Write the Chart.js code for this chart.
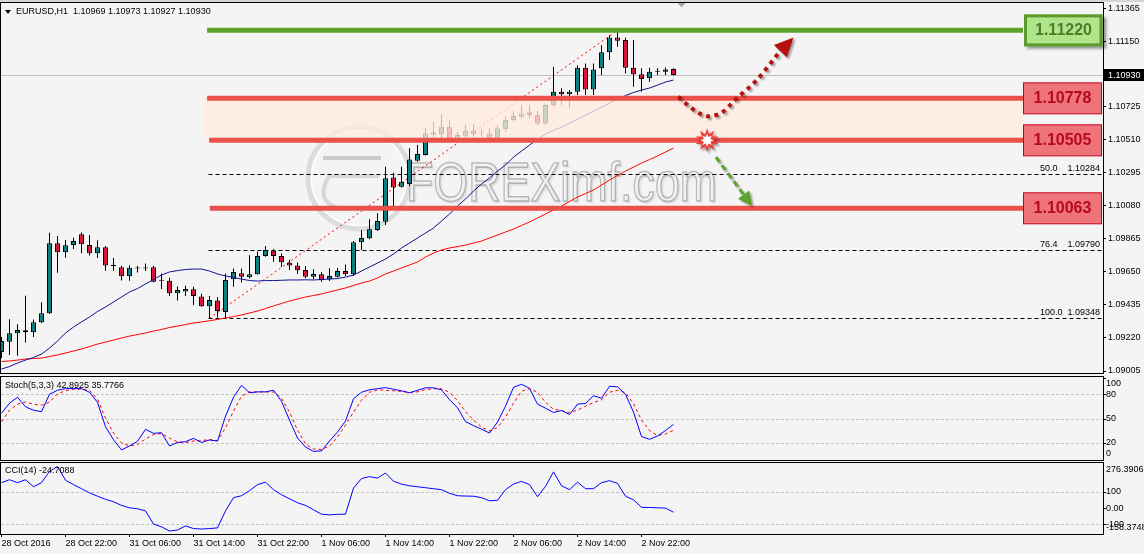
<!DOCTYPE html>
<html>
<head>
<meta charset="utf-8">
<title>EURUSD H1</title>
<script src="https://cdn.jsdelivr.net/npm/chart.js@4.4.1/dist/chart.umd.min.js"></script>
<style>
  html, body { margin:0; padding:0; background:#f4f4f4; }
  body { width:1144px; height:554px; position:relative; overflow:hidden; }
  canvas { position:absolute; left:0; display:block; }
</style>
</head>
<body>
<canvas id="mainPane" width="1144" height="374" style="top:0px"></canvas>
<canvas id="stochPane" width="1144" height="87" style="top:374px"></canvas>
<canvas id="cciPane" width="1144" height="93" style="top:461px"></canvas>
<script>
// ---------------- DATA ----------------
const symbol = 'EURUSD,H1';
const categories = [
 '28 Oct 14:00','28 Oct 15:00','28 Oct 16:00','28 Oct 17:00','28 Oct 18:00','28 Oct 19:00','28 Oct 20:00','28 Oct 21:00','28 Oct 22:00','28 Oct 23:00',
 '31 Oct 00:00','31 Oct 01:00','31 Oct 02:00','31 Oct 03:00','31 Oct 04:00','31 Oct 05:00','31 Oct 06:00','31 Oct 07:00','31 Oct 08:00','31 Oct 09:00','31 Oct 10:00','31 Oct 11:00',
 '31 Oct 12:00','31 Oct 13:00','31 Oct 14:00','31 Oct 15:00','31 Oct 16:00','31 Oct 17:00','31 Oct 18:00','31 Oct 19:00','31 Oct 20:00','31 Oct 21:00','31 Oct 22:00','31 Oct 23:00',
 '1 Nov 00:00','1 Nov 01:00','1 Nov 02:00','1 Nov 03:00','1 Nov 04:00','1 Nov 05:00','1 Nov 06:00','1 Nov 07:00','1 Nov 08:00','1 Nov 09:00','1 Nov 10:00','1 Nov 11:00',
 '1 Nov 12:00','1 Nov 13:00','1 Nov 14:00','1 Nov 15:00','1 Nov 16:00','1 Nov 17:00','1 Nov 18:00','1 Nov 19:00','1 Nov 20:00','1 Nov 21:00','1 Nov 22:00','1 Nov 23:00',
 '2 Nov 00:00','2 Nov 01:00','2 Nov 02:00','2 Nov 03:00','2 Nov 04:00','2 Nov 05:00','2 Nov 06:00','2 Nov 07:00','2 Nov 08:00','2 Nov 09:00','2 Nov 10:00','2 Nov 11:00',
 '2 Nov 12:00','2 Nov 13:00','2 Nov 14:00','2 Nov 15:00','2 Nov 16:00','2 Nov 17:00','2 Nov 18:00','2 Nov 19:00','2 Nov 20:00','2 Nov 21:00','2 Nov 22:00','2 Nov 23:00',
 '3 Nov 00:00','3 Nov 01:00','3 Nov 02:00'
];
const xTickIndex  = [0, 8, 16, 24, 32, 40, 48, 56, 64, 72, 80];
const xTickLabels = ['28 Oct 2016','28 Oct 22:00','31 Oct 06:00','31 Oct 14:00','31 Oct 22:00','1 Nov 06:00','1 Nov 14:00','1 Nov 22:00','2 Nov 06:00','2 Nov 14:00','2 Nov 22:00'];

const open = [1.09128,1.09195,1.09250,1.09270,1.09257,1.09322,1.09380,1.09835,1.09777,1.09824,
1.09894,1.09824,1.09770,1.09809,1.09691,1.09679,1.09621,1.09672,1.09673,1.09679,
1.09593,1.09592,1.09510,1.09522,1.09536,1.09489,1.09426,1.09463,1.09389,1.09602,
1.09640,1.09614,1.09634,1.09753,1.09787,1.09753,1.09709,1.09691,1.09662,1.09618,
1.09634,1.09601,1.09618,1.09655,1.09634,1.09842,1.09868,1.09922,1.09976,1.10264,
1.10203,1.10221,1.10372,1.10409,1.10541,1.10544,1.10593,1.10513,1.10535,1.10565,
1.10550,1.10550,1.10518,1.10578,1.10637,1.10658,1.10687,1.10669,1.10615,1.10734,
1.10821,1.10804,1.10821,1.10977,1.10836,1.10973,1.11077,1.11174,1.11157,1.10977,
1.10934,1.10908,1.10951,1.10951,1.10969];
const high = [1.09226,1.09341,1.09309,1.09495,1.09340,1.09452,1.09904,1.09883,1.09857,1.09872,
1.09905,1.09889,1.09855,1.09818,1.09740,1.09690,1.09692,1.09688,1.09704,1.09690,
1.09639,1.09612,1.09554,1.09559,1.09553,1.09507,1.09493,1.09486,1.09639,1.09671,
1.09671,1.09757,1.09782,1.09818,1.09798,1.09770,1.09729,1.09710,1.09688,1.09666,
1.09647,1.09673,1.09675,1.09697,1.09850,1.09922,1.09991,1.10030,1.10333,1.10294,
1.10333,1.10453,1.10474,1.10589,1.10626,1.10676,1.10641,1.10561,1.10604,1.10609,
1.10578,1.10583,1.10604,1.10658,1.10691,1.10734,1.10734,1.10695,1.10745,1.10983,
1.10843,1.10832,1.10994,1.11005,1.11005,1.11124,1.11189,1.11215,1.11172,1.11157,
1.10973,1.10977,1.10973,1.10979,1.10973];
const low = [1.09089,1.09109,1.09104,1.09190,1.09226,1.09317,1.09376,1.09644,1.09742,1.09798,
1.09770,1.09756,1.09740,1.09657,1.09657,1.09593,1.09592,1.09645,1.09656,1.09582,
1.09538,1.09493,1.09463,1.09493,1.09434,1.09423,1.09348,1.09353,1.09350,1.09553,
1.09580,1.09608,1.09633,1.09748,1.09716,1.09681,1.09662,1.09636,1.09608,1.09603,
1.09586,1.09591,1.09613,1.09623,1.09623,1.09792,1.09861,1.09915,1.09954,1.10078,
1.10199,1.10208,1.10366,1.10406,1.10518,1.10518,1.10507,1.10504,1.10518,1.10528,
1.10528,1.10513,1.10513,1.10561,1.10626,1.10648,1.10648,1.10604,1.10604,1.10723,
1.10734,1.10713,1.10799,1.10799,1.10799,1.10929,1.11027,1.11113,1.10940,1.10853,
1.10821,1.10886,1.10929,1.10929,1.10927];
const close = [1.09200,1.09250,1.09272,1.09257,1.09322,1.09380,1.09835,1.09777,1.09822,1.09850,
1.09829,1.09770,1.09809,1.09691,1.09688,1.09621,1.09676,1.09671,1.09672,1.09586,
1.09592,1.09510,1.09532,1.09538,1.09493,1.09426,1.09467,1.09395,1.09597,1.09649,
1.09618,1.09634,1.09753,1.09792,1.09753,1.09712,1.09691,1.09660,1.09618,1.09636,
1.09597,1.09623,1.09655,1.09634,1.09842,1.09870,1.09927,1.09980,1.10258,1.10199,
1.10236,1.10381,1.10416,1.10550,1.10557,1.10593,1.10513,1.10539,1.10565,1.10544,
1.10551,1.10518,1.10583,1.10637,1.10663,1.10680,1.10669,1.10615,1.10734,1.10821,
1.10804,1.10821,1.10977,1.10836,1.10966,1.11077,1.11174,1.11152,1.10977,1.10934,
1.10903,1.10951,1.10952,1.10966,1.10930];

const maFast = [1.09018,1.09034,1.09057,1.09076,1.09093,1.09115,1.09154,1.09200,1.09252,1.09291,
1.09324,1.09356,1.09392,1.09421,1.09454,1.09486,1.09519,1.09541,1.09571,1.09600,
1.09629,1.09649,1.09658,1.09665,1.09668,1.09668,1.09655,1.09636,1.09623,1.09613,
1.09603,1.09593,1.09590,1.09593,1.09593,1.09595,1.09597,1.09597,1.09598,1.09597,
1.09600,1.09603,1.09606,1.09616,1.09629,1.09655,1.09681,1.09707,1.09733,1.09766,
1.09805,1.09837,1.09870,1.09902,1.09935,1.09980,1.10026,1.10078,1.10123,1.10175,
1.10221,1.10260,1.10305,1.10344,1.10396,1.10435,1.10474,1.10513,1.10546,1.10569,
1.10591,1.10617,1.10643,1.10669,1.10695,1.10721,1.10747,1.10773,1.10796,1.10816,
1.10832,1.10845,1.10864,1.10884,1.10897];
const maSlow = [1.09067,1.09070,1.09076,1.09083,1.09086,1.09089,1.09099,1.09109,1.09122,1.09135,
1.09148,1.09164,1.09180,1.09193,1.09206,1.09219,1.09232,1.09242,1.09252,1.09265,
1.09275,1.09288,1.09297,1.09307,1.09317,1.09324,1.09332,1.09340,1.09350,1.09359,
1.09369,1.09382,1.09395,1.09411,1.09428,1.09444,1.09460,1.09473,1.09486,1.09496,
1.09506,1.09519,1.09532,1.09545,1.09561,1.09577,1.09590,1.09610,1.09636,1.09655,
1.09675,1.09694,1.09714,1.09746,1.09772,1.09792,1.09805,1.09814,1.09824,1.09837,
1.09850,1.09870,1.09889,1.09909,1.09928,1.09951,1.09974,1.10000,1.10026,1.10052,
1.10078,1.10107,1.10136,1.10159,1.10182,1.10214,1.10247,1.10276,1.10305,1.10331,
1.10357,1.10380,1.10403,1.10429,1.10455];

const stochMain = [56.7,69,76.3,64.5,60.4,58.6,80,85,87,87,
87,82.5,70,40,24,11.4,16.3,22,36.8,31.9,
32.6,16.3,20.6,21.6,25.7,20.6,23.7,22.4,53,76.3,
91,81.9,83,83,85,71.4,48.2,26.1,15,9.6,
10.2,22.4,33.5,47,74.5,82.5,85.5,86.9,88.2,86.2,
84.3,81.9,84.9,88,88,85.5,73.3,63.5,46.3,41.4,
37.1,32.2,45.7,65.3,88.6,92.3,87.4,67.8,62.9,57.6,
60,55.1,67.8,68.6,78.2,75.1,89.8,89.2,80,58,
27.9,24.5,28.6,35.3,42.8925];
const stochSignal = [46.1,60.4,67.8,70.6,67.8,66.5,70.2,80.6,84.3,86.2,
86.4,84.9,73.9,50.6,32.2,20,16.3,18.1,24.9,30.4,
31.6,26.1,21.2,20.6,22.4,22.8,24.3,22.8,38.4,59.2,
77.6,83,82.8,82.8,82.8,75.1,58,35.9,18.8,12.6,
12,16.3,27.3,42,58,72.7,82.5,85.5,84.9,84.3,
83.5,82.1,83,85.8,86.8,86.8,82.5,72.1,58.6,48.2,
39.6,34.7,39,51.8,69,83.7,87,82.5,70.2,61.6,
60,57.4,60.4,65.3,69.6,73.3,82.5,84.9,81.9,68.4,
48.2,35.3,29.2,31,35.7766];
const cci = [156,174,156,174,131,156,225,255,171,144,
119,94,73,54,39,17,2,-4,-17,-97,
-115,-140,-134,-109,-125,-128,-125,-121,-17,64,
76,107,144,159,113,82,57,33,17,-10,
-37,-41,-38,-37,123,181,193,184,215,165,
147,137,131,125,119,113,91,76,74,73,
64,45,48,113,147,164,144,70,133,222,
137,113,159,119,119,156,168,152,73,51,
5,4,2,0,-24.7088];

const priceTicks = [1.11365,1.11150,1.10725,1.10510,1.10295,1.10080,1.09865,1.09650,1.09435,1.09220,1.09005];
const currentPrice = 1.10930;
const resistanceLevel = 1.11220;
const supportLevels = [1.10778, 1.10505, 1.10063];
const fibLevels = [50.0, 76.4, 100.0];
const fibPrices = [1.10284, 1.09790, 1.09348];
const fibAnchorLow  = [26, 1.09348];
const fibAnchorHigh = [77, 1.11220];
const stochLevels = [80, 50, 20];
const stochAxisValues = [100, 80, 50, 20, 0];
const cciMin = -158.3748, cciMax = 276.3906;
const cciLevels = [100, -100];
const cciAxisValues = [cciMax, 100, 0, -100, cciMin];
const cciAxisLabels = ['276.3906', '100', '0.00', '-100', '-158.3748'];
// annotation paths, in (bar index, price)
const upArrowPath = [[84.6,1.10788],[86.3,1.10713],[87.7,1.10669],[88.8,1.10663],[90.2,1.10691],[91.9,1.10778],[94.4,1.10897],[97.1,1.11070]];
const upArrowTip = [99.0, 1.11174];
const downArrowPath = [[89.3,1.10396],[92.9,1.10143]];
const downArrowTip = [93.8, 1.10078];
const burstPoint = [88.2, 1.10505];

// ---------------- COMMON ----------------
const X_MIN = -0.0625, X_MAX = 137.6875;
const FONT = '"Liberation Sans", Arial, sans-serif';
const AXIS_W = 41;

function noPad(s){ s.paddingTop = 0; s.paddingBottom = 0; s.paddingLeft = 0; s.paddingRight = 0; }
function bgFill(c){ const ctx=c.ctx; ctx.save(); ctx.fillStyle='#f4f4f4'; ctx.fillRect(0,0,c.width,c.height); ctx.restore(); }
function frame(c){ const {ctx, chartArea:a}=c; ctx.save(); ctx.strokeStyle='#000'; ctx.lineWidth=1; ctx.setLineDash([]);
  ctx.strokeRect(a.left-0.5, a.top-0.5, a.right-a.left+1, a.bottom-a.top+1); ctx.restore(); }
function text(ctx, s, x, y, font, color, align){ ctx.font=font; ctx.fillStyle=color; ctx.textAlign=align||'left'; ctx.textBaseline='middle'; ctx.fillText(s,x,y); }
function hline(ctx, x0, x1, yy){ ctx.beginPath(); ctx.moveTo(x0,yy); ctx.lineTo(x1,yy); ctx.stroke(); }
function rightLabels(c, values, labels){
  const {ctx, chartArea:a, scales:{y}} = c;
  ctx.save();
  values.forEach((v,i)=>{
    let yy = y.getPixelForValue(v);
    const tick = yy > a.top+1 && yy < a.bottom-1;
    if (tick){ ctx.strokeStyle='#000'; ctx.lineWidth=1; const ty=Math.round(yy)+0.5; hline(ctx, a.right, a.right+3, ty); }
    yy = Math.min(Math.max(yy, a.top+6.5), a.bottom-6.5);
    text(ctx, labels[i], a.right+3, yy, '9px '+FONT, '#000', 'left');
  });
  ctx.restore();
}
function catmull(ctx, pts){
  ctx.moveTo(pts[0][0], pts[0][1]);
  for (let i=0;i<pts.length-1;i++){
    const p0=pts[Math.max(0,i-1)], p1=pts[i], p2=pts[i+1], p3=pts[Math.min(pts.length-1,i+2)];
    ctx.bezierCurveTo(p1[0]+(p2[0]-p0[0])/6, p1[1]+(p2[1]-p0[1])/6, p2[0]-(p3[0]-p1[0])/6, p2[1]-(p3[1]-p1[1])/6, p2[0], p2[1]);
  }
}
function arrowHead(ctx, from, tip, len, half){
  const dx=tip[0]-from[0], dy=tip[1]-from[1], d=Math.hypot(dx,dy), ux=dx/d, uy=dy/d;
  const bx=tip[0]-ux*len, by=tip[1]-uy*len;
  ctx.beginPath(); ctx.moveTo(tip[0],tip[1]); ctx.lineTo(bx-uy*half, by+ux*half); ctx.lineTo(bx+uy*half, by-ux*half); ctx.closePath(); ctx.fill();
}

// ---------------- MAIN PANE ----------------
function drawWatermark(ctx, a){
  ctx.save();
  ctx.beginPath(); ctx.rect(a.left,a.top,a.right-a.left,a.bottom-a.top); ctx.clip();
  const cx=a.left+358, cy=a.top+175;
  ctx.lineWidth=5; ctx.strokeStyle='rgba(190,190,190,0.45)';
  ctx.beginPath(); ctx.arc(cx,cy,51,0,Math.PI*2); ctx.stroke();
  ctx.lineWidth=1.5; ctx.strokeStyle='rgba(255,255,255,0.9)';
  ctx.beginPath(); ctx.arc(cx,cy,47.5,0,Math.PI*2); ctx.stroke();
  ctx.fillStyle='rgba(170,170,170,0.55)';
  ctx.fillRect(cx-36, cy-22, 58, 4);
  ctx.lineWidth=4; ctx.strokeStyle='rgba(185,185,185,0.5)';
  ctx.beginPath(); ctx.moveTo(cx+20, cy-2); ctx.lineTo(cx-30, cy-2); ctx.quadraticCurveTo(cx-44, cy+22, cx-22, cy+30); ctx.stroke();
  ctx.save();
  ctx.translate(a.left+405, a.top+198); ctx.scale(0.8,1);
  ctx.font='56px '+FONT; ctx.textAlign='left'; ctx.textBaseline='alphabetic';
  ctx.shadowColor='rgba(0,0,0,0.18)'; ctx.shadowOffsetX=2; ctx.shadowOffsetY=2; ctx.shadowBlur=2;
  ctx.fillStyle='rgba(250,250,250,0.55)'; ctx.fillText('FOREXimf.com',0,0);
  ctx.shadowColor='transparent';
  ctx.lineWidth=1.6; ctx.strokeStyle='rgba(135,135,135,0.55)'; ctx.strokeText('FOREXimf.com',0,0);
  ctx.restore();
  ctx.restore();
}

const mainDecor = {
  id:'mainDecor',
  beforeDraw(c){ bgFill(c); const ctx=c.ctx; ctx.save(); ctx.fillStyle='#d6d6d6'; ctx.fillRect(0,0,c.width,2); ctx.restore(); },
  beforeDatasetsDraw(c){
    const {ctx, chartArea:a, scales:{x,y}} = c;
    drawWatermark(ctx, a);
    ctx.save();
    ctx.beginPath(); ctx.rect(a.left,a.top,a.right-a.left,a.bottom-a.top); ctx.clip();
    ctx.lineWidth=1; ctx.strokeStyle='#c0c0c0';
    hline(ctx, a.left, a.right, Math.round(y.getPixelForValue(currentPrice))+0.5);
    ctx.strokeStyle='#000'; ctx.setLineDash([4,3]);
    const fx = x.getPixelForValue(fibAnchorLow[0]) - 1;
    fibPrices.forEach(p=> hline(ctx, fx, a.right, Math.round(y.getPixelForValue(p))+0.5));
    ctx.strokeStyle='#ff0000'; ctx.setLineDash([2,3]);
    ctx.beginPath();
    ctx.moveTo(x.getPixelForValue(fibAnchorLow[0]), y.getPixelForValue(fibAnchorLow[1]));
    ctx.lineTo(x.getPixelForValue(fibAnchorHigh[0]), y.getPixelForValue(fibAnchorHigh[1]));
    ctx.stroke();
    ctx.restore();
  },
  afterDatasetsDraw(c){
    const {ctx, chartArea:a, scales:{x,y}} = c;
    ctx.save();
    ctx.beginPath(); ctx.rect(a.left,a.top,a.right-a.left,a.bottom-a.top); ctx.clip();
    const boxLeft = a.right - 80;
    const zT = y.getPixelForValue(supportLevels[0]), zB = y.getPixelForValue(supportLevels[1]);
    const zx = x.getPixelForValue(25.2);
    ctx.fillStyle='rgba(255,234,220,0.78)';
    ctx.fillRect(zx, zT, boxLeft - zx, zB - zT);
    ctx.lineWidth=5;
    ctx.strokeStyle='#5ba32b';
    hline(ctx, x.getPixelForValue(25.7), boxLeft, y.getPixelForValue(resistanceLevel));
    ctx.strokeStyle='#ec504a';
    const starts=[25.7, 25.95, 26.05];
    supportLevels.forEach((p,i)=> hline(ctx, x.getPixelForValue(starts[i]), boxLeft, y.getPixelForValue(p)));
    fibPrices.forEach((p,i)=>{
      const yy = y.getPixelForValue(p) - 5.5;
      text(ctx, fibLevels[i].toFixed(1), a.right-63, yy, '9px '+FONT, '#000', 'left');
      text(ctx, p.toFixed(5), a.right-3, yy, '9px '+FONT, '#000', 'right');
    });
    const upPts = upArrowPath.map(q=>[x.getPixelForValue(q[0]), y.getPixelForValue(q[1])]);
    const upTip = [x.getPixelForValue(upArrowTip[0]), y.getPixelForValue(upArrowTip[1])];
    ctx.shadowColor='rgba(0,0,0,0.35)'; ctx.shadowOffsetX=2; ctx.shadowOffsetY=2; ctx.shadowBlur=2;
    ctx.strokeStyle='#b5110f'; ctx.lineWidth=4; ctx.setLineDash([4,4.5]); ctx.lineCap='butt';
    ctx.beginPath(); catmull(ctx, upPts); ctx.stroke();
    ctx.setLineDash([]); ctx.fillStyle='#b5110f';
    arrowHead(ctx, upPts[upPts.length-1], upTip, 19, 9);
    const dnPts = downArrowPath.map(q=>[x.getPixelForValue(q[0]), y.getPixelForValue(q[1])]);
    const dnTip = [x.getPixelForValue(downArrowTip[0]), y.getPixelForValue(downArrowTip[1])];
    ctx.strokeStyle='#5aa32c'; ctx.lineWidth=3; ctx.setLineDash([6,4]);
    ctx.beginPath(); ctx.moveTo(dnPts[0][0],dnPts[0][1]); ctx.lineTo(dnPts[1][0],dnPts[1][1]); ctx.stroke();
    ctx.setLineDash([]); ctx.fillStyle='#5aa32c';
    arrowHead(ctx, dnPts[0], dnTip, 14, 7);
    const bx = x.getPixelForValue(burstPoint[0]), by = y.getPixelForValue(burstPoint[1]);
    const star=(r1,r2,n)=>{ ctx.beginPath(); for(let k=0;k<2*n;k++){ const r=k%2?r2:r1, an=k*Math.PI/n-Math.PI/2; const px=bx+r*Math.cos(an), py=by+r*Math.sin(an); k?ctx.lineTo(px,py):ctx.moveTo(px,py);} ctx.closePath(); ctx.fill(); };
    ctx.fillStyle='#e8433b'; star(12,6.5,10);
    ctx.shadowColor='transparent';
    ctx.fillStyle='#ffffff'; star(6.5,3.5,8);
    ctx.restore();

    ctx.save();
    const gy = y.getPixelForValue(resistanceLevel);
    ctx.shadowColor='rgba(0,0,0,0.45)'; ctx.shadowOffsetX=3; ctx.shadowOffsetY=3; ctx.shadowBlur=3;
    ctx.fillStyle='#b0e48a'; ctx.fillRect(a.right-79, gy-16, 78.5, 32);
    ctx.shadowColor='transparent';
    ctx.strokeStyle='#5a9a2c'; ctx.lineWidth=3; ctx.strokeRect(a.right-77.5, gy-14.5, 75.5, 29);
    text(ctx, resistanceLevel.toFixed(5), a.right-39.5, gy+0.5, 'bold 16px '+FONT, '#4c7c28', 'center');
    supportLevels.forEach(p=>{
      const yy = y.getPixelForValue(p);
      ctx.fillStyle='#ef737a'; ctx.fillRect(a.right-79.5, yy-15.5, 78, 31);
      ctx.strokeStyle='#c8001e'; ctx.lineWidth=1; ctx.strokeRect(a.right-79.5, yy-15.5, 78, 31);
      text(ctx, p.toFixed(5), a.right-40.5, yy+0.5, 'bold 16px '+FONT, '#b50a1c', 'center');
    });
    ctx.restore();
  },
  afterDraw(c){
    const {ctx, chartArea:a, scales:{x,y}} = c;
    frame(c);
    ctx.save();
    ctx.fillStyle='#000';
    ctx.beginPath(); ctx.moveTo(5,10); ctx.lineTo(11,10); ctx.lineTo(8,14); ctx.closePath(); ctx.fill();
    const n = close.length-1;
    text(ctx, symbol+'  '+[open[n],high[n],low[n],close[n]].map(v=>v.toFixed(5)).join(' '), 16, 12, '9px '+FONT, '#000', 'left');
    const cy = Math.round(y.getPixelForValue(currentPrice));
    ctx.fillStyle='#000'; ctx.fillRect(a.right+1, cy-6, 40, 12);
    text(ctx, currentPrice.toFixed(5), a.right+5, cy+0.5, '9px '+FONT, '#fff', 'left');
    const sx = x.getPixelForValue(n+1);
    ctx.fillStyle='#a8a8a8';
    ctx.beginPath(); ctx.moveTo(sx-4,a.top); ctx.lineTo(sx+4,a.top); ctx.lineTo(sx,a.top+4.5); ctx.closePath(); ctx.fill();
    ctx.restore();
  }
};

const idx = categories.map((_,i)=>i);
const bull = idx.map(i=> close[i] > open[i]);

new Chart(document.getElementById('mainPane'), {
  type:'bar',
  data:{ datasets:[
    { type:'line', label:'MA fast', data: maFast.map((v,i)=>({x:i,y:v})), borderColor:'#101090', borderWidth:1, pointRadius:0, tension:0, order:0 },
    { type:'line', label:'MA slow', data: maSlow.map((v,i)=>({x:i,y:v})), borderColor:'#ff0000', borderWidth:1, pointRadius:0, tension:0, order:1 },
    { type:'bar', label:'body', data: idx.map(i=>({x:i, y:[open[i], close[i]]})),
      backgroundColor: bull.map(b=> b ? '#0e7f80' : '#dc143c'), borderColor:'#000', borderWidth:1, borderSkipped:false,
      barThickness:5, grouped:false, minBarLength:1, inflateAmount:0, order:2 },
    { type:'bar', label:'wick', data: idx.map(i=>({x:i, y:[low[i], high[i]]})),
      backgroundColor:'#000', borderWidth:0, barThickness:1, grouped:false, inflateAmount:0, order:3 }
  ]},
  options:{
    responsive:false, animation:false, devicePixelRatio:1, events:[],
    layout:{ padding:{ left:1, right:0, top:3, bottom:1 } },
    plugins:{ legend:{display:false}, tooltip:{enabled:false} },
    scales:{
      x:{ type:'linear', min:X_MIN, max:X_MAX, display:false, offset:false },
      y:{ type:'linear', position:'right', min:1.08992, max:1.11398,
          afterFit(s){ s.width = AXIS_W; noPad(s); },
          afterBuildTicks(s){ s.ticks = priceTicks.map(v=>({value:v})); },
          ticks:{ callback:v=> Number(v).toFixed(5), font:{family:FONT, size:9}, color:'#000', padding:2, autoSkip:false },
          grid:{ drawOnChartArea:false, drawTicks:true, tickLength:3, color:'#000' },
          border:{ display:false } }
    }
  },
  plugins:[mainDecor]
});

// ---------------- STOCH PANE ----------------
const stochDecor = {
  id:'stochDecor',
  beforeDraw(c){ bgFill(c); },
  beforeDatasetsDraw(c){
    const {ctx, chartArea:a, scales:{y}} = c;
    ctx.save(); ctx.strokeStyle='#c4c4c4'; ctx.lineWidth=1; ctx.setLineDash([3,2]);
    stochLevels.forEach(v=> hline(ctx, a.left, a.right, Math.round(y.getPixelForValue(v))+0.5));
    ctx.restore();
  },
  afterDraw(c){
    frame(c);
    rightLabels(c, stochAxisValues, stochAxisValues.map(String));
    const ctx=c.ctx; ctx.save();
    text(ctx, 'Stoch(5,3,3) '+stochMain[stochMain.length-1].toFixed(4)+' '+stochSignal[stochSignal.length-1].toFixed(4), 5, 12, '9px '+FONT, '#000', 'left');
    ctx.restore();
  }
};
new Chart(document.getElementById('stochPane'), {
  type:'line',
  data:{ datasets:[
    { data: stochMain.map((v,i)=>({x:i,y:v})), borderColor:'#0000ff', borderWidth:1, pointRadius:0, tension:0, order:0 },
    { data: stochSignal.map((v,i)=>({x:i,y:v})), borderColor:'#ff0000', borderWidth:1, borderDash:[3,3], pointRadius:0, tension:0, order:1 }
  ]},
  options:{
    responsive:false, animation:false, devicePixelRatio:1, events:[],
    layout:{ padding:{ left:1, right:0, top:3, bottom:1 } },
    plugins:{ legend:{display:false}, tooltip:{enabled:false} },
    scales:{
      x:{ type:'linear', min:X_MIN, max:X_MAX, display:false },
      y:{ type:'linear', position:'right', min:-1, max:101.3, afterFit(s){ s.width = AXIS_W; noPad(s); },
          ticks:{display:false}, grid:{drawOnChartArea:false, drawTicks:false}, border:{display:false} }
    }
  },
  plugins:[stochDecor]
});

// ---------------- CCI PANE ----------------
const cciDecor = {
  id:'cciDecor',
  beforeDraw(c){ bgFill(c); },
  beforeDatasetsDraw(c){
    const {ctx, chartArea:a, scales:{y}} = c;
    ctx.save(); ctx.strokeStyle='#c4c4c4'; ctx.lineWidth=1; ctx.setLineDash([3,2]);
    cciLevels.forEach(v=> hline(ctx, a.left, a.right, Math.round(y.getPixelForValue(v))+0.5));
    ctx.restore();
  },
  afterDraw(c){
    frame(c);
    rightLabels(c, cciAxisValues, cciAxisLabels);
    const ctx=c.ctx; ctx.save();
    text(ctx, 'CCI(14) '+cci[cci.length-1].toFixed(4), 5, 10, '9px '+FONT, '#000', 'left');
    ctx.restore();
  }
};
new Chart(document.getElementById('cciPane'), {
  type:'line',
  data:{ datasets:[
    { data: cci.map((v,i)=>({x:i,y:v})), borderColor:'#0000ff', borderWidth:1, pointRadius:0, tension:0 }
  ]},
  options:{
    responsive:false, animation:false, devicePixelRatio:1, events:[],
    layout:{ padding:{ left:1, right:0, top:2, bottom:0 } },
    plugins:{ legend:{display:false}, tooltip:{enabled:false} },
    scales:{
      x:{ type:'linear', position:'bottom', min:X_MIN, max:X_MAX,
          afterFit(s){ s.height = 20; noPad(s); },
          afterBuildTicks(s){ s.ticks = xTickIndex.map(v=>({value:v})); },
          ticks:{ callback:v=> xTickLabels[xTickIndex.indexOf(v)], align:'start', font:{family:FONT, size:9}, color:'#000', padding:1, maxRotation:0, autoSkip:false },
          grid:{ drawOnChartArea:false, drawTicks:true, tickLength:3, color:'#000' },
          border:{ display:false } },
      y:{ type:'linear', position:'right', min:cciMin, max:cciMax, afterFit(s){ s.width = AXIS_W; noPad(s); },
          ticks:{display:false}, grid:{drawOnChartArea:false, drawTicks:false}, border:{display:false} }
    }
  },
  plugins:[cciDecor]
});
</script>
</body>
</html>
